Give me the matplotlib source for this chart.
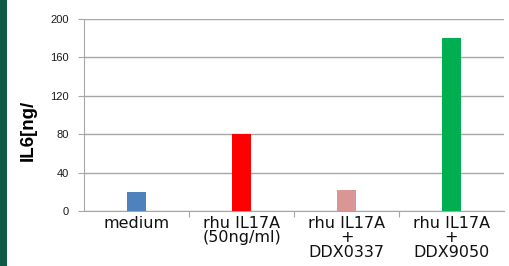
#!/usr/bin/env python

import matplotlib
matplotlib.use('Agg')
from matplotlib import rcParams

rcParams['font.family'] = 'sans-serif'
rcParams['font.sans-serif'] = ['Liberation Sans']

import matplotlib.pyplot as plt
from matplotlib.patches import Rectangle

# data
categories = ['medium', 'rhu IL17A\n(50ng/ml)', 'rhu IL17A\n+\nDDX0337', 'rhu IL17A\n+\nDDX9050']
values = [20, 80, 22, 180]
colors = ['#4f81bd', '#ff0000', '#d99694', '#00b050']
yticks = [0, 40, 80, 120, 160, 200]


def main():
    fig = plt.figure(figsize=(5.09, 2.66), dpi=100)
    fig.patch.set_facecolor('white')

    # green strip on the left edge
    fig.patches.append(Rectangle((0, 0), 7 / 509, 1, transform=fig.transFigure,
                                 facecolor='#0e5b43', edgecolor='none', zorder=0))

    ax = fig.add_axes([84 / 509, 1 - 211 / 266, 420 / 509, 192 / 266])
    x = range(len(values))
    ax.bar(x, values, width=0.19, color=colors, zorder=3)

    ax.set_xlim(-0.5, len(values) - 0.5)
    ax.set_ylim(0, 200)
    ax.set_yticks(yticks)
    ax.set_yticklabels([str(v) for v in yticks], fontsize=8, color='#1a1a1a')
    ax.yaxis.grid(True, color='#a6a6a6', linewidth=1.0, zorder=0)

    ax.set_xticks([i + 0.5 for i in range(len(values) - 1)])
    ax.set_xticklabels([])
    ax.tick_params(axis='x', length=4, color='#a6a6a6')
    ax.tick_params(axis='y', length=4, color='#a6a6a6', pad=7)
    for i, lab in enumerate(categories):
        ax.text(i, -5, lab, ha='center', va='top', fontsize=11.5,
                family='DejaVu Sans', linespacing=0.95, color='#111111')

    for s in ['top', 'right']:
        ax.spines[s].set_visible(False)
    ax.spines['left'].set_color('#a6a6a6')
    ax.spines['bottom'].set_color('#a6a6a6')

    fig.text(28 / 509, 1 - 130 / 266, 'IL6[ng/', rotation=90, fontsize=13.5,
             fontweight='bold', ha='center', va='center')

    fig.savefig('out.png', dpi=100)


if __name__ == '__main__':
    main()
